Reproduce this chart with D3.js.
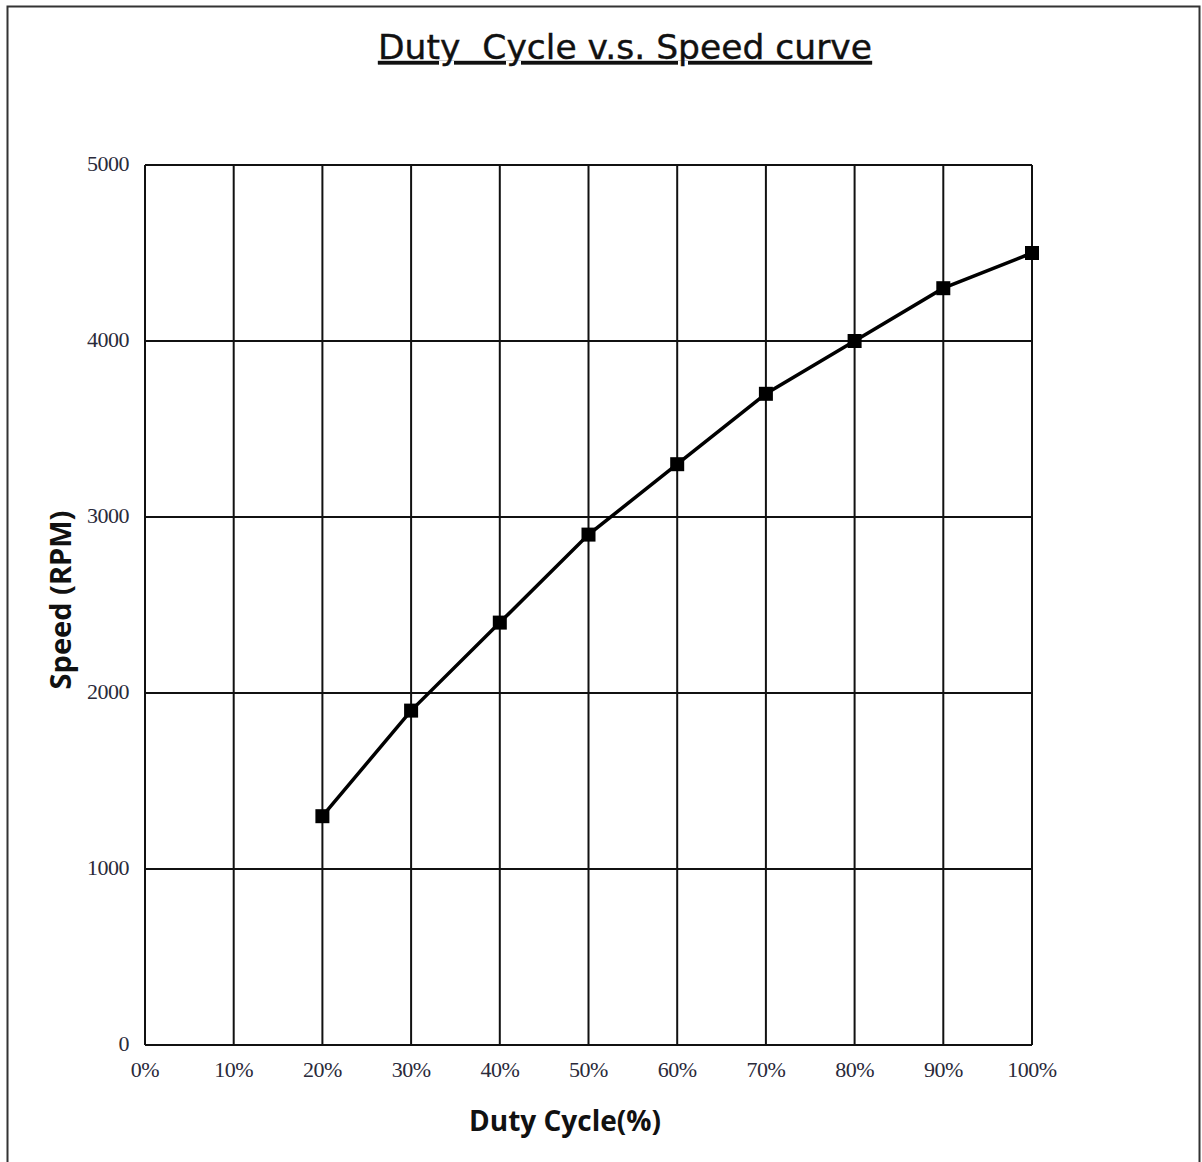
<!DOCTYPE html>
<html>
<head>
<meta charset="utf-8">
<script src="https://cdn.jsdelivr.net/npm/d3@7"></script>
<style>
  body { margin: 0; background: #fff; }
</style>
</head>
<body>
<div id="chart"></div>
<script>
// Data
const dutyCycles = [20, 30, 40, 50, 60, 70, 80, 90, 100];
const speeds = [1300, 1900, 2400, 2900, 3300, 3700, 4000, 4300, 4500];
const xTicks = [0, 10, 20, 30, 40, 50, 60, 70, 80, 90, 100];
const yTicks = [0, 1000, 2000, 3000, 4000, 5000];

const width = 1202;
const height = 1162;
const margin = { left: 145, right: 170, top: 165, bottom: 117 };

const svg = d3.select("#chart")
    .append("svg")
    .attr("width", width)
    .attr("height", height);

// Outer frame
svg.append("rect")
    .attr("x", 7.5)
    .attr("y", 6.5)
    .attr("width", 1192)
    .attr("height", 1170)
    .attr("fill", "none")
    .attr("stroke", "#333")
    .attr("stroke-width", 2);

const x = d3.scaleLinear().domain([0, 100]).range([margin.left, width - margin.right]);
const y = d3.scaleLinear().domain([0, 5000]).range([height - margin.bottom, margin.top]);

// Grid lines
svg.append("g")
    .selectAll("line")
    .data(xTicks)
    .join("line")
    .attr("x1", d => x(d))
    .attr("x2", d => x(d))
    .attr("y1", y(0))
    .attr("y2", y(5000))
    .attr("stroke", "#111")
    .attr("stroke-width", 2);

svg.append("g")
    .selectAll("line")
    .data(yTicks)
    .join("line")
    .attr("x1", x(0))
    .attr("x2", x(100))
    .attr("y1", d => y(d))
    .attr("y2", d => y(d))
    .attr("stroke", "#111")
    .attr("stroke-width", 2);

// Tick labels
svg.append("g")
    .selectAll("text")
    .data(yTicks)
    .join("text")
    .attr("x", x(0) - 16)
    .attr("y", d => y(d) + 6)
    .attr("text-anchor", "end")
    .attr("font-family", "Liberation Serif, serif")
    .attr("font-size", 22)
    .attr("letter-spacing", -0.5)
    .attr("fill", "#2a2a3a")
    .text(d => d);

svg.append("g")
    .selectAll("text")
    .data(xTicks)
    .join("text")
    .attr("x", d => x(d))
    .attr("y", y(0) + 32)
    .attr("text-anchor", "middle")
    .attr("font-family", "Liberation Serif, serif")
    .attr("font-size", 22)
    .attr("letter-spacing", -0.5)
    .attr("fill", "#2a2a3a")
    .text(d => d + "%");

// Curve
const points = dutyCycles.map((d, i) => [d, speeds[i]]);
svg.append("path")
    .datum(points)
    .attr("fill", "none")
    .attr("stroke", "#000")
    .attr("stroke-width", 3.5)
    .attr("d", d3.line().x(d => x(d[0])).y(d => y(d[1])));

svg.append("g")
    .selectAll("rect")
    .data(points)
    .join("rect")
    .attr("x", d => x(d[0]) - 7)
    .attr("y", d => y(d[1]) - 7)
    .attr("width", 14)
    .attr("height", 14)
    .attr("fill", "#000");

// Title
svg.append("text")
    .attr("x", 625)
    .attr("y", 59)
    .attr("text-anchor", "middle")
    .attr("font-family", "DejaVu Sans, sans-serif")
    .attr("font-size", 34.5)
    .attr("fill", "#111")
    .attr("stroke", "#111")
    .attr("stroke-width", 0.4)
    .attr("text-decoration", "underline")
    .style("white-space", "pre")
    .text("Duty  Cycle v.s. Speed curve");

// Axis titles
svg.append("text")
    .attr("x", 565)
    .attr("y", 1131)
    .attr("text-anchor", "middle")
    .attr("font-family", "Open Sans, Noto Sans, sans-serif")
    .attr("font-weight", "bold")
    .attr("font-size", 28)
    .attr("fill", "#111")
    .text("Duty Cycle(%)");

svg.append("text")
    .attr("transform", "translate(71,600) rotate(-90)")
    .attr("text-anchor", "middle")
    .attr("font-family", "Open Sans, Noto Sans, sans-serif")
    .attr("font-weight", "bold")
    .attr("font-size", 29)
    .attr("fill", "#111")
    .text("Speed (RPM)");
</script>
</body>
</html>
